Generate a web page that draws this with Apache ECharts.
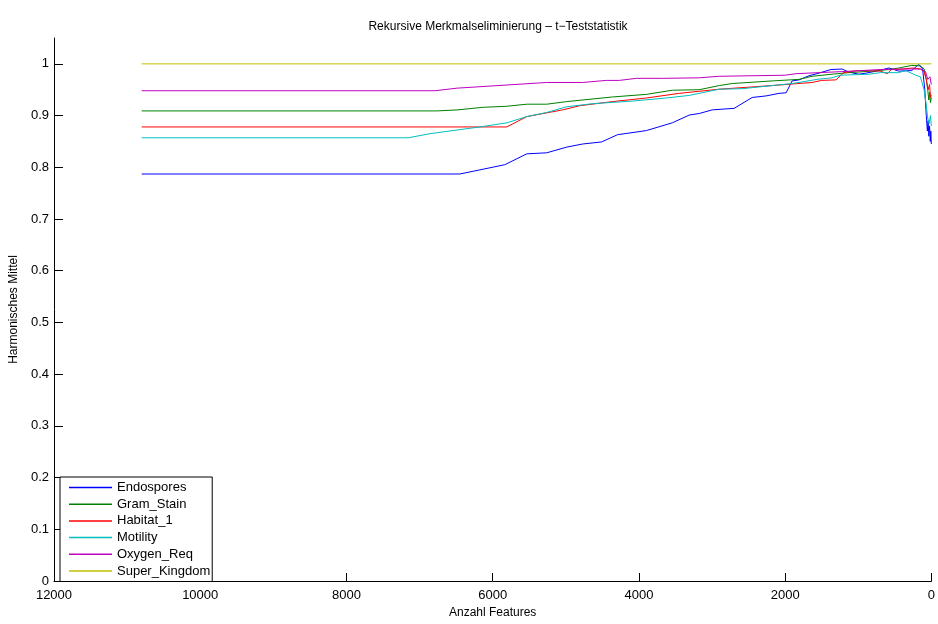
<!DOCTYPE html>
<html>
<head>
<meta charset="utf-8">
<script src="https://cdn.jsdelivr.net/npm/echarts@6/dist/echarts.min.js"></script>
<style>html,body{margin:0;padding:0;background:#fff}#c{width:938px;height:624px}</style>
</head>
<body>
<div id="c"></div>
<script>
const seriesNames = ['Endospores', 'Gram_Stain', 'Habitat_1', 'Motility', 'Oxygen_Req', 'Super_Kingdom'];
const seriesColors = ['#0000ff', '#008000', '#ff0000', '#00bfbf', '#bf00bf', '#bfbf00'];
const xTicks = [0, 2000, 4000, 6000, 8000, 10000, 12000];
const yTicks = [0, 0.1, 0.2, 0.3, 0.4, 0.5, 0.6, 0.7, 0.8, 0.9, 1];

const endospores = [[10800,0.787],[6450,0.787],[6175,0.795],[5834,0.805],[5534,0.826],[5261,0.828],[4988,0.839],[4770,0.845],[4511,0.849],[4293,0.863],[3897,0.871],[3543,0.886],[3311,0.901],[3175,0.904],[2998,0.911],[2697,0.914],[2451,0.935],[2260,0.938],[2083,0.943],[1987,0.944],[1905,0.967],[1810,0.969],[1674,0.977],[1565,0.981],[1374,0.989],[1224,0.990],[1128,0.984],[992,0.980],[896,0.982],[719,0.987],[580,0.992],[446,0.986],[269,0.987],[173,0.999],[120,0.99],[90,0.95],[70,0.90],[55,0.87],[45,0.89],[35,0.86],[25,0.88],[15,0.85],[8,0.87],[1,0.845]];
const gramStain = [[10800,0.909],[6760,0.909],[6475,0.911],[6134,0.916],[5806,0.918],[5534,0.922],[5261,0.922],[4988,0.927],[4361,0.936],[3897,0.941],[3543,0.949],[3175,0.950],[2901,0.958],[2724,0.962],[2178,0.967],[1810,0.970],[1633,0.976],[1360,0.980],[1128,0.983],[814,0.986],[580,0.989],[446,0.992],[269,0.997],[150,0.996],[100,0.99],[70,0.97],[50,0.95],[35,0.93],[25,0.945],[12,0.925],[1,0.935]];
const habitat1 = [[10800,0.878],[5806,0.878],[5534,0.898],[5043,0.911],[4811,0.919],[4361,0.927],[3897,0.934],[3448,0.943],[2901,0.951],[2178,0.958],[1633,0.964],[1500,0.968],[1305,0.969],[1200,0.983],[1000,0.987],[700,0.986],[600,0.981],[550,0.989],[400,0.99],[250,0.992],[150,0.99],[100,0.985],[70,0.97],[45,0.95],[25,0.96],[12,0.935],[1,0.94]];
const motility = [[10800,0.857],[7156,0.857],[6856,0.865],[6175,0.878],[5806,0.886],[5534,0.898],[5261,0.906],[4988,0.917],[4634,0.923],[4088,0.928],[3625,0.934],[3311,0.939],[2901,0.951],[2588,0.952],[1905,0.962],[1810,0.964],[1565,0.970],[1360,0.973],[1250,0.978],[850,0.980],[700,0.983],[450,0.983],[350,0.987],[214,0.978],[150,0.975],[100,0.95],[70,0.92],[50,0.895],[30,0.885],[12,0.9],[1,0.88]];
const oxygenReq = [[10800,0.948],[6788,0.948],[6488,0.953],[5261,0.964],[4770,0.964],[4443,0.968],[4266,0.968],[4034,0.972],[3679,0.972],[3175,0.973],[2901,0.976],[2000,0.978],[1851,0.981],[1224,0.985],[700,0.989],[300,0.99],[150,0.99],[80,0.985],[50,0.97],[20,0.975],[1,0.96]];
const superKingdom = [[10800,1],[1,1]];

const allData = [endospores, gramStain, habitat1, motility, oxygenReq, superKingdom];

const font = 'Liberation Sans, Arial, Helvetica, sans-serif';
const chart = echarts.init(document.getElementById('c'), null, {renderer: 'canvas'});
chart.setOption({
  animation: false,
  backgroundColor: '#ffffff',
  title: {
    text: 'Rekursive Merkmalseliminierung \u2013 t\u2212Teststatistik',
    left: 493, top: 16, textAlign: 'center',
    textStyle: {fontFamily: font, fontSize: 12, fontWeight: 'normal', color: '#000'}
  },
  grid: {left: 53, right: 5, top: 38, bottom: 37, containLabel: false},
  legend: {
    orient: 'vertical', left: 60, top: 477,
    data: seriesNames,
    icon: 'rect', itemWidth: 43, itemHeight: 1.5, itemGap: 1.7,
    padding: [3, 2, 3, 9],
    borderColor: '#000', borderWidth: 1, backgroundColor: '#fff',
    textStyle: {fontFamily: font, fontSize: 13, color: '#000', lineHeight: 15}
  },
  xAxis: {
    type: 'value', inverse: true, min: 0, max: 12000, interval: 2000,
    name: 'Anzahl Features', nameLocation: 'middle', nameGap: 26,
    nameTextStyle: {fontFamily: font, fontSize: 12, color: '#000'},
    axisLine: {show: true, onZero: false, lineStyle: {color: '#000', width: 1}},
    axisTick: {show: true, inside: true, length: 8, lineStyle: {color: '#000'}, customValues: xTicks},
    axisLabel: {fontFamily: font, fontSize: 13, color: '#000', margin: 8, customValues: xTicks,
      formatter: v => String(v)},
    splitLine: {show: false}
  },
  yAxis: {
    type: 'value', min: 0, max: 1.05, position: 'left',
    name: 'Harmonisches Mittel', nameLocation: 'middle', nameGap: 27,
    nameTextStyle: {fontFamily: font, fontSize: 12, color: '#000'},
    axisLine: {show: true, onZero: false, lineStyle: {color: '#000', width: 1}},
    axisTick: {show: true, inside: true, length: 9, lineStyle: {color: '#000'}, customValues: yTicks},
    axisLabel: {fontFamily: font, fontSize: 13, color: '#000', margin: 5, customValues: yTicks,
      formatter: v => String(Math.round(v * 10) / 10)},
    splitLine: {show: false}
  },
  series: seriesNames.map((n, i) => ({
    name: n, type: 'line', data: allData[i], showSymbol: false, symbol: 'none',
    color: seriesColors[i],
    itemStyle: {color: seriesColors[i]},
    lineStyle: {width: 1, color: seriesColors[i]},
    z: 2 + i
  }))
});
</script>
</body>
</html>
